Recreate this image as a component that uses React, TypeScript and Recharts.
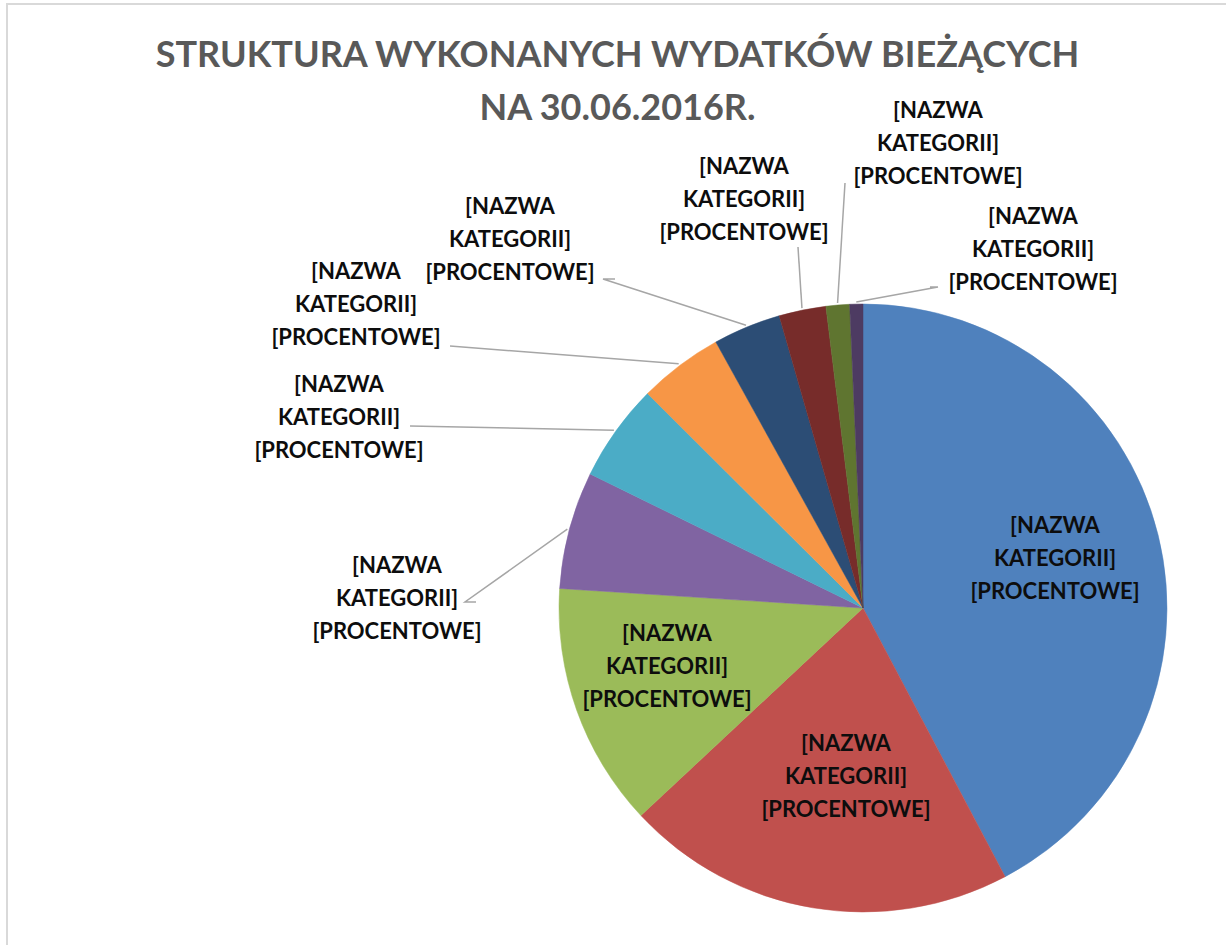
import React from "react";
import { PieChart, Pie, Cell } from "recharts";

// chart data
const categories = [
  "[NAZWA KATEGORII]", "[NAZWA KATEGORII]", "[NAZWA KATEGORII]", "[NAZWA KATEGORII]", "[NAZWA KATEGORII]",
  "[NAZWA KATEGORII]", "[NAZWA KATEGORII]", "[NAZWA KATEGORII]", "[NAZWA KATEGORII]", "[NAZWA KATEGORII]",
];
const shares = [42.3, 20.8, 13.0, 6.25, 5.2, 4.5, 3.6, 2.5, 1.25, 0.7];
const percentLabel = "[PROCENTOWE]";
const colors = ["#4F81BD", "#C0504D", "#9BBB59", "#8064A2", "#4BACC6", "#F79646", "#2C4D75", "#772C2A", "#5F7530", "#4D3B62"];

const titleLines = ["STRUKTURA WYKONANYCH WYDATKÓW BIEŻĄCYCH", "NA 30.06.2016R."];

// label layout, offsets from pie centre (middle text line)
const labelOffsets: [number, number][] = [
  [192, -51], [-17, 167], [-196, 57], [-466, -11], [-524, -192],
  [-507, -305], [-353, -370], [-119, -410], [75, -466], [170, -360],
];
// where leader line meets the label (null = label sits inside slice)
const leaderEnds: ([number, number][] | null)[] = [
  null, null, null,
  [[-398, -6], [-387, -6]],
  [[-453, -182]],
  [[-413, -262]],
  [[-260, -329], [-248, -329]],
  [[-65, -361]],
  [[-18, -425]],
  [[75, -321], [67, -321]],
];

const data = categories.map((name, i) => ({ name, value: shares[i] }));

const RAD = Math.PI / 180;
const FONT = "Lato, 'Open Sans', sans-serif";

const renderLabel = (props: any) => {
  const { cx, cy, midAngle, outerRadius, index, name } = props;
  const [dx, dy] = labelOffsets[index];
  const x = cx + dx;
  const y = cy + dy;
  const words = name.split(" ");
  const lines = [words[0], words[1], percentLabel];
  const ends = leaderEnds[index];
  let path = "";
  if (ends) {
    const sx = cx + (outerRadius + 2) * Math.cos(-midAngle * RAD);
    const sy = cy + (outerRadius + 2) * Math.sin(-midAngle * RAD);
    path = `M${sx},${sy}` + ends.map(([ex, ey]) => `L${cx + ex},${cy + ey}`).join("");
  }
  return (
    <g key={`lbl-${index}`}>
      {ends && <path d={path} stroke="#a6a6a6" strokeWidth={1.5} fill="none" />}
      <text x={x} y={y} textAnchor="middle" fontFamily={FONT} fontWeight={700} fontSize={22} fill="#0d0d0d">
        {lines.map((l, k) => (
          <tspan key={k} x={x} y={y + (k - 1) * 33} dominantBaseline="central">{l}</tspan>
        ))}
      </text>
    </g>
  );
};

export default function App() {
  return (
    <div style={{ position: "absolute", left: 0, top: 0, width: 1226, height: 945, background: "#fff", overflow: "hidden" }}>
      <style>{`.recharts-pie-sectors { filter: drop-shadow(0px 2px 5px rgba(0,0,0,0.35)); }`}</style>
      <div style={{ position: "absolute", left: 6, top: 3, width: 1240, height: 960, borderLeft: "2px solid #d9d9d9", borderTop: "2px solid #d9d9d9" }} />
      <div style={{ position: "absolute", left: 0, top: 27, width: 1235, textAlign: "center", fontFamily: FONT, fontWeight: 700, fontSize: 36, lineHeight: "53px", color: "#595959" }}>
        {titleLines.map((t, i) => <div key={i}>{t}</div>)}
      </div>
      <div style={{ position: "absolute", left: 0, top: 0 }}>
        <PieChart width={1226} height={945} margin={{ top: 0, right: 0, bottom: 0, left: 0 }}>
          <Pie
            data={data}
            dataKey="value"
            nameKey="name"
            cx={863}
            cy={608}
            outerRadius={304}
            startAngle={90}
            endAngle={-270}
            label={renderLabel}
            labelLine={false}
            isAnimationActive={false}
          >
            {data.map((d, i) => (
              <Cell key={i} fill={colors[i]} stroke={colors[i]} strokeWidth={0.5} />
            ))}
          </Pie>
        </PieChart>
      </div>
    </div>
  );
}
